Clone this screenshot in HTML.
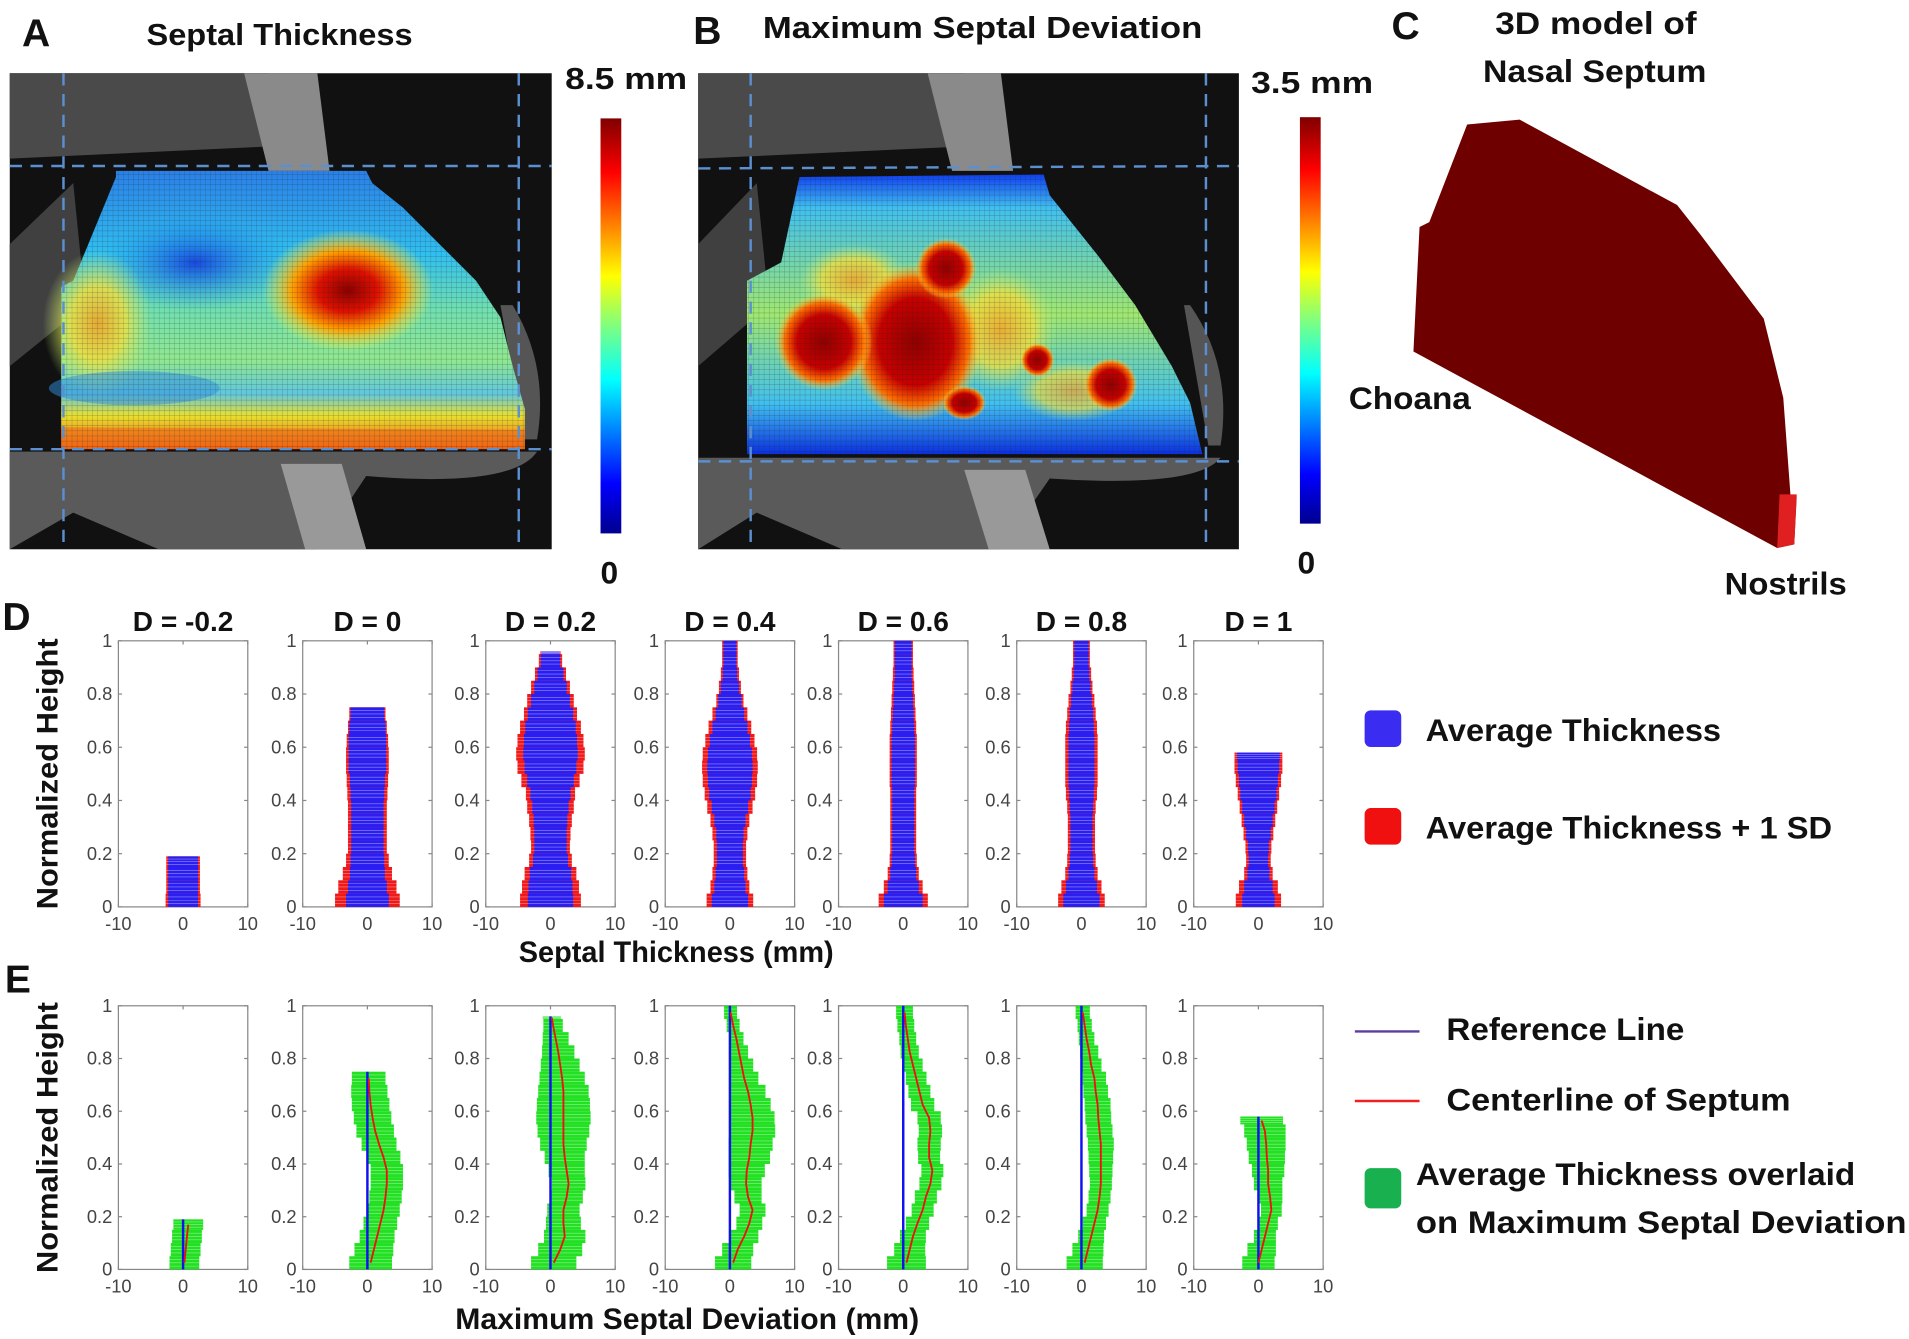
<!DOCTYPE html>
<html><head><meta charset="utf-8"><style>
html,body{margin:0;padding:0;background:#fff;}
svg{display:block;}
text{font-family:"Liberation Sans",sans-serif;}
.b{font-weight:bold;fill:#111;}
.tk{font-size:15px;fill:#444;}
</style></head><body>
<svg id="fig" width="1909" height="1339" viewBox="0 0 1564 1097" preserveAspectRatio="none" xmlns="http://www.w3.org/2000/svg">
<defs>
<linearGradient id="jet" x1="0" y1="1" x2="0" y2="0">
<stop offset="0" stop-color="#00008f"/><stop offset="0.12" stop-color="#0000ff"/><stop offset="0.37" stop-color="#00ffff"/><stop offset="0.5" stop-color="#7fff7f"/><stop offset="0.62" stop-color="#ffff00"/><stop offset="0.87" stop-color="#ff0000"/><stop offset="1" stop-color="#800000"/>
</linearGradient>
<radialGradient id="redA" cx="0.5" cy="0.5" r="0.5"><stop offset="0" stop-color="#8a0000"/><stop offset="0.35" stop-color="#e01000"/><stop offset="0.65" stop-color="#ffa000"/><stop offset="1" stop-color="#ffff40" stop-opacity="0"/></radialGradient>
<radialGradient id="redB" cx="0.5" cy="0.5" r="0.5"><stop offset="0" stop-color="#900000"/><stop offset="0.55" stop-color="#c80000"/><stop offset="0.8" stop-color="#ff7000"/><stop offset="1" stop-color="#ffe040" stop-opacity="0"/></radialGradient>
<radialGradient id="yelB" cx="0.5" cy="0.5" r="0.5"><stop offset="0" stop-color="#ffa020"/><stop offset="0.6" stop-color="#f0e040"/><stop offset="1" stop-color="#c0f080" stop-opacity="0"/></radialGradient>
<radialGradient id="blueA" cx="0.5" cy="0.5" r="0.5"><stop offset="0" stop-color="#1848e0"/><stop offset="1" stop-color="#20a0f0" stop-opacity="0"/></radialGradient>
<radialGradient id="warmA" cx="0.5" cy="0.5" r="0.5"><stop offset="0" stop-color="#f8a020"/><stop offset="0.5" stop-color="#f0e040"/><stop offset="1" stop-color="#c0f080" stop-opacity="0"/></radialGradient>
<linearGradient id="gA" x1="0" y1="0" x2="0" y2="1"><stop offset="0" stop-color="#2a80e8"/><stop offset="0.3" stop-color="#30c0f0"/><stop offset="0.5" stop-color="#70e0b0"/><stop offset="0.68" stop-color="#90e890"/><stop offset="0.8" stop-color="#60c8e0"/><stop offset="0.88" stop-color="#e8e030"/><stop offset="1" stop-color="#f06010"/></linearGradient>
<linearGradient id="gB" x1="0" y1="0" x2="0" y2="1"><stop offset="0" stop-color="#1040f0"/><stop offset="0.12" stop-color="#40c0f0"/><stop offset="0.5" stop-color="#a0e870"/><stop offset="0.82" stop-color="#40c0f0"/><stop offset="1" stop-color="#0a30e0"/></linearGradient>
<pattern id="grid" width="4.2" height="4.2" patternUnits="userSpaceOnUse"><path d="M0 0H4.2M0 0V4.2" stroke="#222" stroke-width="0.5" opacity="0.5"/></pattern>
</defs>

<!-- Panel A -->
<g>
<text class="b" x="18" y="38" font-size="32">A</text>
<text class="b" x="120" y="37" font-size="25" textLength="218" lengthAdjust="spacingAndGlyphs">Septal Thickness</text>
<rect x="8" y="60" width="444" height="390" fill="#111"/>
<path d="M8 60 H220 V120 L8 130Z" fill="#4a4a4a"/>
<path d="M200 60 L260 60 L270 140 L220 140 Z" fill="#8a8a8a"/>
<path d="M8 370 H440 Q420 400 300 390 L260 450 H130 L60 420 L8 450Z" fill="#5a5a5a"/>
<path d="M230 380 L280 380 L300 450 L250 450Z" fill="#999"/>
<path d="M420 250 Q450 300 440 360 L430 360 L410 250Z" fill="#555"/>
<path d="M8 200 L60 150 L70 250 L8 300Z" fill="#404040"/>
<g>
<path d="M50 235 L60 230 L95 145 L95 140 L300 140 L305 150 L330 170 L360 200 L390 230 L410 260 L420 300 L430 335 L430 368 L50 368 Z" fill="url(#gA)"/>
<ellipse cx="160" cy="215" rx="80" ry="40" fill="url(#blueA)"/>
<ellipse cx="80" cy="265" rx="45" ry="60" fill="url(#warmA)" opacity="0.85"/>
<ellipse cx="285" cy="238" rx="70" ry="50" fill="url(#redA)"/>
<ellipse cx="110" cy="318" rx="70" ry="14" fill="#3090e0" opacity="0.5"/>
<path d="M50 368 L50 350 L430 352 L430 368Z" fill="#f06818" opacity="0.55"/>
<path d="M50 235 L60 230 L95 145 L95 140 L300 140 L305 150 L330 170 L360 200 L390 230 L410 260 L420 300 L430 335 L430 368 L50 368 Z" fill="url(#grid)"/>
</g>
<g stroke="#5b8fd0" stroke-width="2" stroke-dasharray="10 7" fill="none">
<line x1="52" y1="60" x2="52" y2="450"/><line x1="425" y1="60" x2="425" y2="450"/>
<line x1="8" y1="136" x2="452" y2="136"/><line x1="8" y1="368" x2="452" y2="368"/>
</g>
<text class="b" x="463" y="73" font-size="25" textLength="100" lengthAdjust="spacingAndGlyphs">8.5 mm</text>
<rect x="492" y="97" width="17" height="340" fill="url(#jet)"/>
<text class="b" x="492" y="478" font-size="26">0</text>
</g>

<!-- Panel B -->
<g>
<text class="b" x="568" y="36" font-size="32">B</text>
<text class="b" x="625" y="31" font-size="25" textLength="360" lengthAdjust="spacingAndGlyphs">Maximum Septal Deviation</text>
<rect x="572" y="60" width="443" height="390" fill="#111"/>
<path d="M572 60 H790 V120 L572 130Z" fill="#4a4a4a"/>
<path d="M760 60 L820 60 L830 140 L780 140 Z" fill="#8a8a8a"/>
<path d="M572 375 H1000 Q980 400 860 392 L820 450 H690 L620 420 L572 450Z" fill="#5a5a5a"/>
<path d="M790 385 L840 385 L860 450 L810 450Z" fill="#999"/>
<path d="M975 250 Q1010 300 1000 365 L990 365 L970 250Z" fill="#555"/>
<path d="M572 200 L620 150 L630 250 L572 300Z" fill="#404040"/>
<g>
<path d="M612 230 L640 215 L655 145 L855 143 L860 160 L900 210 L930 250 L960 300 L975 330 L985 372 L612 372 Z" fill="url(#gB)"/>
<ellipse cx="700" cy="230" rx="45" ry="30" fill="url(#yelB)" opacity="0.8"/>
<ellipse cx="820" cy="270" rx="45" ry="50" fill="url(#yelB)" opacity="0.8"/>
<ellipse cx="880" cy="320" rx="50" ry="25" fill="url(#yelB)" opacity="0.7"/>
<ellipse cx="750" cy="280" rx="55" ry="65" fill="url(#redB)"/>
<ellipse cx="675" cy="280" rx="40" ry="40" fill="url(#redB)"/>
<ellipse cx="775" cy="220" rx="25" ry="25" fill="url(#redB)"/>
<ellipse cx="910" cy="315" rx="22" ry="22" fill="url(#redB)"/>
<ellipse cx="850" cy="295" rx="14" ry="14" fill="url(#redB)"/>
<ellipse cx="790" cy="330" rx="18" ry="14" fill="url(#redB)"/>
<path d="M612 230 L640 215 L655 145 L855 143 L860 160 L900 210 L930 250 L960 300 L975 330 L985 372 L612 372 Z" fill="url(#grid)"/>
</g>
<g stroke="#5b8fd0" stroke-width="2" stroke-dasharray="10 7" fill="none">
<line x1="615" y1="60" x2="615" y2="450"/><line x1="988" y1="60" x2="988" y2="450"/>
<line x1="572" y1="138" x2="1015" y2="136"/><line x1="572" y1="378" x2="1015" y2="378"/>
</g>
<text class="b" x="1025" y="76" font-size="25" textLength="100" lengthAdjust="spacingAndGlyphs">3.5 mm</text>
<rect x="1065" y="96" width="17" height="333" fill="url(#jet)"/>
<text class="b" x="1063" y="470" font-size="26">0</text>
</g>

<!-- Panel C -->
<g>
<text class="b" x="1140" y="32" font-size="32">C</text>
<text class="b" x="1225" y="28" font-size="26" textLength="165" lengthAdjust="spacingAndGlyphs">3D model of</text>
<text class="b" x="1215" y="67" font-size="26" textLength="183" lengthAdjust="spacingAndGlyphs">Nasal Septum</text>
<path d="M1202 102 L1245 98 L1374 168 L1393 192 L1445 261 L1461 326 L1467 407 L1472 407 L1470 446 L1456 449 L1158 288 L1163 186 L1171 182 Z" fill="#6e0000"/>
<path d="M1458 405 L1472 405 L1470 446 L1456 449Z" fill="#e02020"/>
<text class="b" x="1105" y="335" font-size="26" textLength="100" lengthAdjust="spacingAndGlyphs">Choana</text>
<text class="b" x="1413" y="487" font-size="26" textLength="100" lengthAdjust="spacingAndGlyphs">Nostrils</text>
</g>

<!-- Panel D/E labels -->
<text class="b" x="2" y="516" font-size="32">D</text>
<text class="b" x="4" y="813" font-size="32">E</text>
<text class="b" font-size="24" textLength="222" lengthAdjust="spacingAndGlyphs" transform="translate(47,634) rotate(-90)" text-anchor="middle">Normalized Height</text>
<text class="b" font-size="24" textLength="222" lengthAdjust="spacingAndGlyphs" transform="translate(47,932) rotate(-90)" text-anchor="middle">Normalized Height</text>
<text class="b" x="554" y="788" font-size="24" textLength="258" lengthAdjust="spacingAndGlyphs" text-anchor="middle">Septal Thickness (mm)</text>
<text class="b" x="563" y="1089" font-size="24" textLength="380" lengthAdjust="spacingAndGlyphs" text-anchor="middle">Maximum Septal Deviation (mm)</text>

<!-- Legends -->
<g>
<rect x="1118" y="582" width="30" height="30" rx="5" fill="#3a2cf0"/>
<text class="b" x="1168" y="607" font-size="26" textLength="242" lengthAdjust="spacingAndGlyphs">Average Thickness</text>
<rect x="1118" y="662" width="30" height="30" rx="5" fill="#f01010"/>
<text class="b" x="1168" y="687" font-size="26" textLength="333" lengthAdjust="spacingAndGlyphs">Average Thickness + 1 SD</text>
</g>
<g>
<line x1="1110" y1="845" x2="1163" y2="845" stroke="#5a3ea0" stroke-width="2"/>
<text class="b" x="1185" y="852" font-size="26" textLength="195" lengthAdjust="spacingAndGlyphs">Reference Line</text>
<line x1="1110" y1="902" x2="1163" y2="902" stroke="#f02020" stroke-width="2"/>
<text class="b" x="1185" y="910" font-size="26" textLength="282" lengthAdjust="spacingAndGlyphs">Centerline of Septum</text>
<rect x="1118" y="957" width="30" height="33" rx="5" fill="#19b050"/>
<text class="b" x="1160" y="971" font-size="26" textLength="360" lengthAdjust="spacingAndGlyphs">Average Thickness overlaid</text>
<text class="b" x="1160" y="1010" font-size="26" textLength="402" lengthAdjust="spacingAndGlyphs">on Maximum Septal Deviation</text>
</g>
<g id="plots"></g>
</svg>
<script>
// Panel D/E data (step 0.05 in normalized height)
const dLabels = ["D = -0.2","D = 0","D = 0.2","D = 0.4","D = 0.6","D = 0.8","D = 1"];
const maxHeight = [0.19, 0.75, 0.96, 1.0, 1.0, 1.0, 0.58];
const avgHalf = [
 [2.3,2.3,2.3,2.3],
 [3.3,3.0,2.7,2.6,2.5,2.5,2.5,2.5,2.6,2.7,2.9,2.9,2.9,2.8,2.6],
 [3.5,3.4,3.2,2.7,2.5,2.5,2.6,2.8,3.1,3.6,4.0,4.2,4.1,3.9,3.5,3.0,2.5,2.0,1.5,1.4],
 [2.8,2.4,2.2,2.0,2.0,2.1,2.4,2.8,3.2,3.4,3.5,3.4,3.1,2.7,2.2,1.8,1.4,1.1,1.0,1.0],
 [3.0,2.4,2.0,1.8,1.7,1.7,1.7,1.7,1.7,1.8,1.8,1.8,1.8,1.7,1.6,1.5,1.4,1.3,1.3,1.3],
 [2.8,2.4,2.0,1.8,1.7,1.7,1.7,1.8,1.9,2.0,2.0,2.0,2.0,1.9,1.8,1.6,1.4,1.2,1.1,1.1],
 [2.5,2.2,1.7,1.5,1.6,1.9,2.2,2.5,2.8,3.0,3.2,3.3]
];
const sdHalf = [
 [2.7,2.6,2.6,2.6],
 [5.0,4.5,3.8,3.3,3.0,3.0,3.0,3.0,3.1,3.2,3.3,3.3,3.2,3.0,2.8],
 [4.7,4.4,4.0,3.3,3.0,3.1,3.3,3.6,3.8,4.5,5.1,5.3,5.1,4.7,4.1,3.6,3.0,2.4,1.8,1.6],
 [3.6,3.0,2.7,2.5,2.5,2.7,3.0,3.5,3.9,4.2,4.3,4.2,3.8,3.3,2.7,2.1,1.7,1.4,1.2,1.2],
 [3.8,3.0,2.4,2.1,2.0,2.0,2.0,2.0,2.0,2.1,2.1,2.1,2.1,2.0,1.9,1.8,1.7,1.6,1.5,1.5],
 [3.6,3.1,2.5,2.2,2.1,2.1,2.1,2.2,2.4,2.5,2.5,2.5,2.5,2.4,2.2,2.0,1.7,1.5,1.3,1.3],
 [3.5,3.0,2.2,1.9,2.0,2.3,2.6,2.9,3.2,3.5,3.7,3.7]
];
const centerline = [
 [0.2,0.4,0.6,0.8],
 [0.5,1.0,1.5,2.0,2.5,2.8,3.0,3.0,2.5,1.8,1.2,0.8,0.5,0.3,0.2],
 [0.5,1.5,2.2,2.0,2.0,2.5,2.8,2.5,2.2,2.0,2.0,2.0,2.0,2.0,1.8,1.5,1.2,0.8,0.4,0.2],
 [0.5,1.2,2.2,3.0,3.5,2.8,2.5,2.6,3.0,3.2,3.5,3.5,3.2,2.8,2.2,1.8,1.4,1.0,0.5,0.1],
 [0.5,1.0,1.5,2.2,3.0,3.5,4.2,4.5,4.0,4.0,4.2,4.0,3.0,2.5,2.0,1.5,1.0,0.7,0.4,0.2],
 [0.5,1.0,1.5,2.0,2.5,2.8,3.0,3.0,3.0,3.0,2.8,2.6,2.5,2.2,2.0,1.5,1.2,0.8,0.5,0.2],
 [0.0,0.5,1.0,1.5,2.0,1.8,1.5,1.5,1.3,1.2,1.0,0.5]
];
const yTicks = [0,0.2,0.4,0.6,0.8,1];
const yTickLabels = ["0","0.2","0.4","0.6","0.8","1"];
const xTicks = [-10,0,10];
const xTickLabels = ["-10","0","10"];
const STEP = 0.05;

const NS = "http://www.w3.org/2000/svg";
const root = document.getElementById('plots');
const lefts = [97,248,398,545,687,833,978];
const W = 106;
function mk(tag, attrs, parent){ const e=document.createElementNS(NS,tag); for(const k in attrs) e.setAttribute(k,attrs[k]); parent.appendChild(e); return e; }
function xScale(left, v){ return left + (v+10)/20*W; }
function yScale(top, bottom, h){ return bottom - h*(bottom-top); }

function axes(g, left, top, bottom){
  const box = mk('rect',{x:left,y:top,width:W,height:bottom-top,fill:'#fff',stroke:'#888','stroke-width':1},g);
  
  
  yTicks.forEach((t,i)=>{
    const y=yScale(top,bottom,t);
    mk('line',{x1:left,x2:left+3,y1:y,y2:y,stroke:'#888'},g);
    mk('line',{x1:left+W-3,x2:left+W,y1:y,y2:y,stroke:'#888'},g);
    const tx=mk('text',{x:left-5,y:y+5,'text-anchor':'end',class:'tk'},g);
    tx.textContent=yTickLabels[i];
    
    
  });
  xTicks.forEach((t,i)=>{
    const x=xScale(left,t);
    mk('line',{x1:x,x2:x,y1:bottom,y2:bottom-3,stroke:'#888'},g);
    mk('line',{x1:x,x2:x,y1:top,y2:top+3,stroke:'#888'},g);
    const tx=mk('text',{x:x,y:bottom+19,'text-anchor':'middle',class:'tk'},g);
    tx.textContent=xTickLabels[i];
    
    
  });
}

for(let p=0;p<7;p++){
  // Panel D
  const left=lefts[p], top=525, bottom=743;
  const g=mk('g',{},root);
  
  
  axes(g,left,top,bottom);
  const t=mk('text',{x:left+W/2,y:top-8,'text-anchor':'middle',class:'b','font-size':23},g);
  t.textContent=dLabels[p];
  
  
  for(let i=0;i<avgHalf[p].length;i++){
    const h0=i*STEP, h1=Math.min((i+1)*STEP, maxHeight[p]);
    const y0=yScale(top,bottom,h1), y1=yScale(top,bottom,h0);
    const r=mk('rect',{x:xScale(left,-sdHalf[p][i]),y:y0,width:xScale(left,sdHalf[p][i])-xScale(left,-sdHalf[p][i]),height:y1-y0,fill:'#f01818'},g);
    
    
    const b=mk('rect',{x:xScale(left,-avgHalf[p][i]),y:y0,width:xScale(left,avgHalf[p][i])-xScale(left,-avgHalf[p][i]),height:y1-y0,fill:'#2a1ef0'},g);
    
    
    for(let s=1;s<4;s++){ const ys=y0+(y1-y0)*s/4; mk('line',{x1:xScale(left,-sdHalf[p][i]),x2:xScale(left,sdHalf[p][i]),y1:ys,y2:ys,stroke:'#fff','stroke-width':0.5,opacity:0.5},g); }
  }
  // Panel E
  const topE=824, bottomE=1040;
  const ge=mk('g',{},root);
  
  
  axes(ge,left,topE,bottomE);
  let pts=[];
  for(let i=0;i<centerline[p].length;i++){
    const h0=i*STEP, h1=Math.min((i+1)*STEP, maxHeight[p]);
    const y0=yScale(topE,bottomE,h1), y1=yScale(topE,bottomE,h0);
    const c=centerline[p][i], w=avgHalf[p][i];
    const r=mk('rect',{x:xScale(left,c-w),y:y0,width:xScale(left,c+w)-xScale(left,c-w),height:y1-y0,fill:'#22e022'},ge);
    
    
    for(let s=1;s<4;s++){ const ys=y0+(y1-y0)*s/4; mk('line',{x1:xScale(left,c-w),x2:xScale(left,c+w),y1:ys,y2:ys,stroke:'#fff','stroke-width':0.5,opacity:0.5},ge); }
    pts.push(xScale(left,c)+','+yScale(topE,bottomE,(h0+h1)/2));
  }
  const ref=mk('line',{x1:xScale(left,0),x2:xScale(left,0),y1:bottomE,y2:yScale(topE,bottomE,maxHeight[p]),stroke:'#1010f0','stroke-width':2},ge);
  
  
  const cl=mk('polyline',{points:pts.join(' '),fill:'none',stroke:'#f01010','stroke-width':1.5},ge);
  
  
}
</script>
</body></html>
